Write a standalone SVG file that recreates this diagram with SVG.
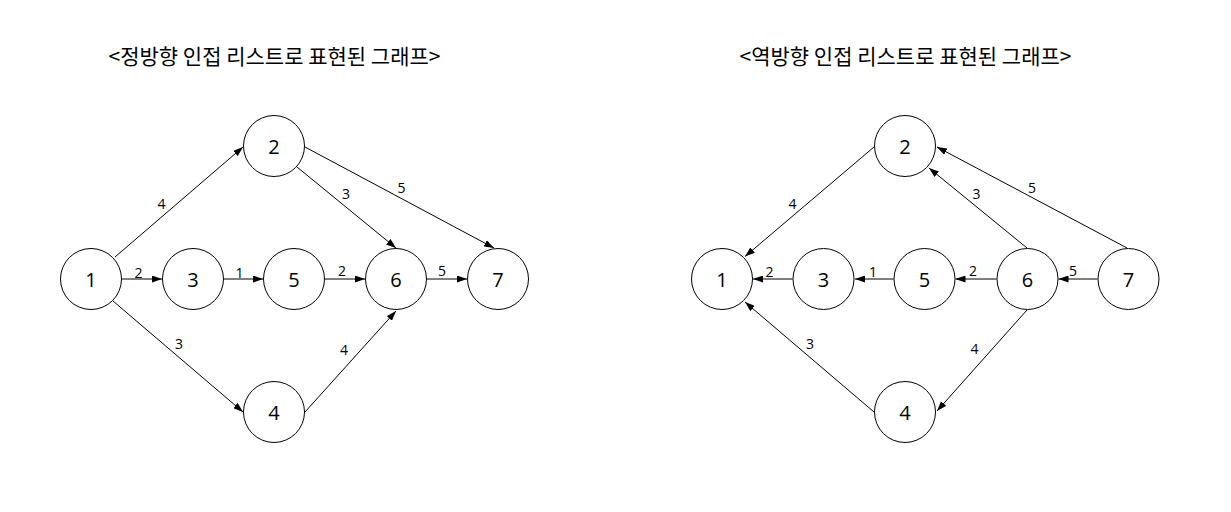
<svg xmlns="http://www.w3.org/2000/svg" width="1231" height="512" viewBox="0 0 1231 512">
<style>
.n circle{fill:#fff;stroke:#000;stroke-width:1}
.n text{font-family:"Open Sans","Noto Sans",sans-serif;font-size:20px;fill:#000;text-anchor:middle;dominant-baseline:central}
.e line{stroke:#000;stroke-width:1;marker-end:url(#ah)}
.lbl{font-family:"Open Sans","Noto Sans",sans-serif;font-size:14px;fill:#000;text-anchor:middle;dominant-baseline:central}
.title{font-family:"Noto Sans CJK KR","Noto Sans",sans-serif;font-size:21px;fill:#000;text-anchor:middle;dominant-baseline:central}
</style>
<defs>
<marker id="ah" viewBox="0 0 10 7" refX="10" refY="3.5" markerWidth="10" markerHeight="7" markerUnits="userSpaceOnUse" orient="auto">
<path d="M0,0 L10,3.5 L0,7 z" fill="#000"/>
</marker>
</defs>
<rect width="1231" height="512" fill="#fff"/>
<text class="title" x="274.5" y="55">&lt;정방향 인접 리스트로 표현된 그래프&gt;</text>
<text class="title" x="905.5" y="55">&lt;역방향 인접 리스트로 표현된 그래프&gt;</text>

<g id="connectors-forward" class="e">
<line x1="115" y1="257" x2="243" y2="147"/>
<line x1="122" y1="279" x2="162" y2="279"/>
<line x1="224" y1="279" x2="263" y2="279"/>
<line x1="325" y1="279" x2="365" y2="279"/>
<line x1="427" y1="279" x2="467" y2="279"/>
<line x1="297" y1="167" x2="396" y2="248"/>
<line x1="305" y1="147" x2="494" y2="248"/>
<line x1="113" y1="301" x2="243" y2="412"/>
<line x1="305" y1="412" x2="396" y2="311"/>
</g>
<g id="labels-forward" class="lbl">
<text x="161.5" y="203">4</text>
<text x="138.5" y="272">2</text>
<text x="239.5" y="272">1</text>
<text x="346" y="193">3</text>
<text x="401.5" y="187">5</text>
<text x="342" y="270">2</text>
<text x="442" y="270">5</text>
<text x="179" y="343">3</text>
<text x="344" y="349">4</text>
</g>
<g id="f1" class="n"><circle cx="91" cy="279" r="30.5"/><text x="91" y="279">1</text></g>
<g id="f2" class="n"><circle cx="274" cy="146" r="30.5"/><text x="274" y="146">2</text></g>
<g id="f3" class="n"><circle cx="193" cy="279" r="30.5"/><text x="193" y="279">3</text></g>
<g id="f4" class="n"><circle cx="274" cy="412" r="30.5"/><text x="274" y="412">4</text></g>
<g id="f5" class="n"><circle cx="294" cy="279" r="30.5"/><text x="294" y="279">5</text></g>
<g id="f6" class="n"><circle cx="396" cy="279" r="30.5"/><text x="396" y="279">6</text></g>
<g id="f7" class="n"><circle cx="498" cy="279" r="30.5"/><text x="498" y="279">7</text></g>

<g id="connectors-reverse" class="e">
<line x1="874" y1="147" x2="745" y2="256.5"/>
<line x1="792.5" y1="279" x2="753" y2="279"/>
<line x1="893.5" y1="279" x2="855" y2="279"/>
<line x1="996.5" y1="279" x2="955.5" y2="279"/>
<line x1="1097.5" y1="279" x2="1058.5" y2="279"/>
<line x1="1027" y1="248" x2="929" y2="168"/>
<line x1="1127" y1="248" x2="937" y2="147"/>
<line x1="1027" y1="310" x2="937" y2="411"/>
<line x1="874" y1="412" x2="745" y2="302"/>
</g>
<g id="labels-reverse" class="lbl">
<text x="792.5" y="203">4</text>
<text x="769.5" y="271">2</text>
<text x="873" y="271">1</text>
<text x="976.5" y="193">3</text>
<text x="1032" y="187">5</text>
<text x="973" y="270">2</text>
<text x="1073" y="270">5</text>
<text x="810" y="343">3</text>
<text x="974.5" y="348.5">4</text>
</g>
<g id="r1" class="n"><circle cx="722" cy="279" r="30.5"/><text x="722" y="279">1</text></g>
<g id="r2" class="n"><circle cx="905" cy="146" r="30.5"/><text x="905" y="146">2</text></g>
<g id="r3" class="n"><circle cx="823.5" cy="279" r="30.5"/><text x="823.5" y="279">3</text></g>
<g id="r4" class="n"><circle cx="905" cy="412" r="30.5"/><text x="905" y="412">4</text></g>
<g id="r5" class="n"><circle cx="924.5" cy="279" r="30.5"/><text x="924.5" y="279">5</text></g>
<g id="r6" class="n"><circle cx="1027.5" cy="279" r="30.5"/><text x="1027.5" y="279">6</text></g>
<g id="r7" class="n"><circle cx="1128.5" cy="279" r="30.5"/><text x="1128.5" y="279">7</text></g>
</svg>
